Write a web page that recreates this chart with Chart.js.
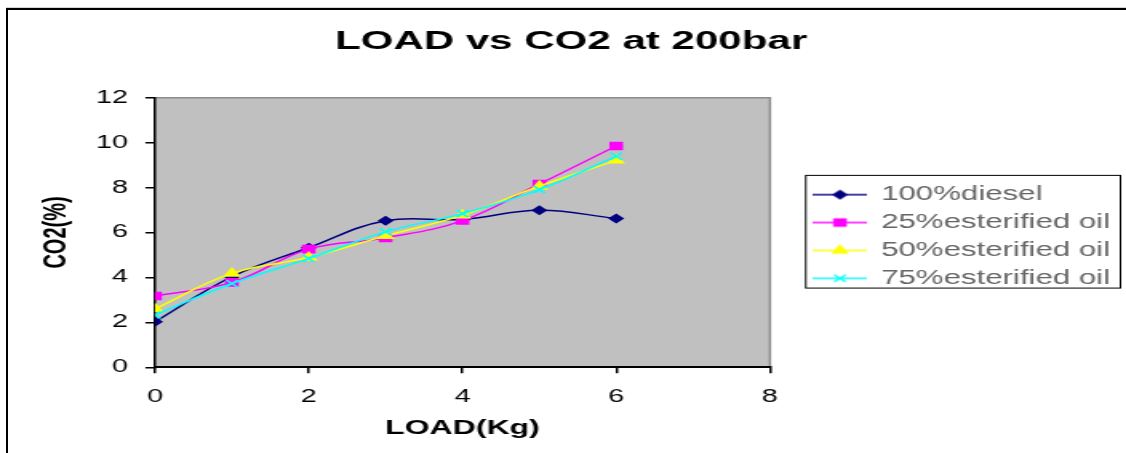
<!DOCTYPE html>
<html>
<head>
<meta charset="utf-8">
<title>LOAD vs CO2 at 200bar</title>
<script src="https://cdn.jsdelivr.net/npm/chart.js@4"></script>
<style>
  html, body { margin: 0; padding: 0; background: #fff; overflow: hidden; }
  /* cadrul exterior al graficului */
  #frame {
    position: absolute; left: 6px; top: 8px; width: 1200px; height: 500px;
    border-left: 2px solid #000; border-top: 2px solid #000;
    box-shadow: 0 -1px 0 #d4d4d4;
  }
  #co2Chart { position: absolute; left: 0; top: 0; }
</style>
</head>
<body>
<div id="frame"></div>
<!-- canvasul e desenat ingust si intins pe orizontala, ca in imaginea originala -->
<canvas id="co2Chart" width="704" height="453" style="width:1126px;height:453px"></canvas>
<script>
// --- Date ---
const loads = [0, 1, 2, 3, 4, 5, 6];
const seriesNames = ['100%diesel', '25%esterified oil', '50%esterified oil', '75%esterified oil'];
const diesel100 = [2.03, 4.03, 5.32, 6.52, 6.58, 6.99, 6.62];
const esterified25 = [3.17, 3.78, 5.26, 5.76, 6.53, 8.16, 9.85];
const esterified50 = [2.6, 4.18, 4.89, 5.85, 6.77, 8.06, 9.21];
const esterified75 = [2.33, 3.73, 4.84, 6.03, 6.84, 7.91, 9.39];
const xTicks = [0, 2, 4, 6, 8];
const yTicks = [0, 2, 4, 6, 8, 10, 12];

const FONT = '"Liberation Sans", Arial, sans-serif';

const seriesStyles = [
    { color: '#000080', point: 'rectRot', radius: 4 },
    { color: '#FF00FF', point: 'rect', radius: 5 },
    { color: '#FFFF00', point: 'triangle', radius: 5 },
    { color: '#00FFFF', point: 'crossRot', radius: 5 }
];
const seriesValues = [diesel100, esterified25, esterified50, esterified75];

// Iconita din legenda: linie + marker, ca in Excel
function legendIcon(style) {
    const c = document.createElement('canvas');
    c.width = 34;
    c.height = 14;
    const ctx = c.getContext('2d');
    ctx.strokeStyle = style.color;
    ctx.fillStyle = style.color;
    ctx.lineWidth = 1.5;
    ctx.beginPath();
    ctx.moveTo(0, 7);
    ctx.lineTo(34, 7);
    ctx.stroke();
    Chart.helpers.drawPoint(ctx, { pointStyle: style.point, radius: style.radius, borderWidth: 1.5 }, 17, 7);
    return c;
}
const legendIcons = seriesStyles.map(legendIcon);

// Fundal gri pentru zona graficului + marginea de sus si din dreapta
const plotArea = {
    id: 'plotArea',
    beforeDraw(chart) {
        const { ctx, chartArea: a } = chart;
        ctx.save();
        ctx.fillStyle = '#C0C0C0';
        ctx.fillRect(a.left, a.top, a.width, a.height);
        ctx.strokeStyle = '#8c8c8c';
        ctx.lineWidth = 1.5;
        ctx.beginPath();
        ctx.moveTo(a.left, a.top);
        ctx.lineTo(a.right, a.top);
        ctx.lineTo(a.right, a.bottom);
        ctx.stroke();
        ctx.restore();
    }
};

// Chenarul legendei
const legendFrame = {
    id: 'legendFrame',
    afterDraw(chart) {
        const lg = chart.legend;
        const boxes = lg.legendHitBoxes;
        if (!boxes || !boxes.length) return;
        const first = boxes[0];
        const last = boxes[boxes.length - 1];
        const ctx = chart.ctx;
        ctx.save();
        ctx.strokeStyle = '#000';
        ctx.lineWidth = 1;
        ctx.strokeRect(lg.left + 3, first.top - 9.5, lg.width - 6.5, last.top + last.height - first.top + 9.5);
        ctx.restore();
    }
};

const datasets = seriesNames.map((name, i) => ({
    label: name,
    data: loads.map((x, j) => ({ x: x, y: seriesValues[i][j] })),
    borderColor: seriesStyles[i].color,
    backgroundColor: seriesStyles[i].color,
    pointBackgroundColor: seriesStyles[i].color,
    pointBorderColor: seriesStyles[i].color,
    pointStyle: seriesStyles[i].point,
    pointRadius: seriesStyles[i].radius,
    pointBorderWidth: 1.5,
    borderWidth: 1.5,
    tension: 0.4,
    order: 3 - i,
    xAxisID: 'x',
    yAxisID: 'y'
}));

new Chart(document.getElementById('co2Chart'), {
    type: 'line',
    data: { datasets: datasets },
    plugins: [plotArea, legendFrame],
    options: {
        responsive: false,
        devicePixelRatio: 1,
        animation: false,
        layout: { padding: { left: 10, right: 0, top: 0, bottom: 0 } },
        plugins: {
            tooltip: { enabled: false },
            title: {
                display: true,
                text: 'LOAD vs CO2 at 200bar',
                color: '#000',
                font: { family: FONT, size: 26.3, weight: 'bold' },
                padding: { top: 26.4, bottom: 39.7 }
            },
            legend: {
                position: 'right',
                fullSize: false,
                maxWidth: 230,
                // titlu gol, doar ca sa coboare putin randurile legendei
                title: { display: true, text: ' ', font: { size: 1 }, padding: { top: 3.4, bottom: 3.4 } },
                labels: {
                    usePointStyle: true,
                    pointStyleWidth: 32,
                    padding: 8.4,
                    color: '#000',
                    font: { family: FONT, size: 19.5 },
                    generateLabels: chart => chart.data.datasets.map((ds, i) => ({
                        text: ds.label,
                        pointStyle: legendIcons[i],
                        fillStyle: ds.borderColor,
                        strokeStyle: ds.borderColor,
                        lineWidth: 0,
                        hidden: false,
                        datasetIndex: i
                    }))
                }
            }
        },
        scales: {
            x: {
                type: 'linear',
                position: 'bottom',
                min: 0,
                max: 8,
                afterBuildTicks: s => { s.ticks = xTicks.map(v => ({ value: v })); },
                afterFit: s => { s.height = 85.7; },
                grid: { drawOnChartArea: false, drawTicks: true, tickLength: 6, color: '#000', lineWidth: 1.5 },
                border: { color: '#000', width: 2 },
                ticks: { padding: 13, color: '#000', maxRotation: 0, font: { family: FONT, size: 18 } },
                title: {
                    display: true,
                    text: 'LOAD(Kg)',
                    color: '#000',
                    font: { family: FONT, size: 20, weight: 'bold' },
                    padding: { top: 0, bottom: 13 }
                }
            },
            y: {
                type: 'linear',
                position: 'left',
                min: 0,
                max: 12,
                afterBuildTicks: s => { s.ticks = yTicks.map(v => ({ value: v })); },
                afterFit: s => { s.width = 86.9; },
                grid: { drawOnChartArea: false, drawTicks: true, tickLength: 6, color: '#000', lineWidth: 1.5 },
                border: { color: '#000', width: 1.5 },
                ticks: { padding: 11, color: '#000', font: { family: FONT, size: 18 } },
                title: {
                    display: true,
                    text: 'CO2(%)',
                    color: '#000',
                    font: { family: FONT, size: 20, weight: 'bold' },
                    padding: { top: 13, bottom: 0 }
                }
            },
            // spatiu gol intre grafic si legenda
            gap: {
                type: 'linear',
                position: 'right',
                display: true,
                grid: { display: false, drawTicks: false },
                border: { display: false },
                ticks: { display: false },
                afterFit: s => { s.width = 19.4; }
            }
        }
    }
});
</script>
</body>
</html>
